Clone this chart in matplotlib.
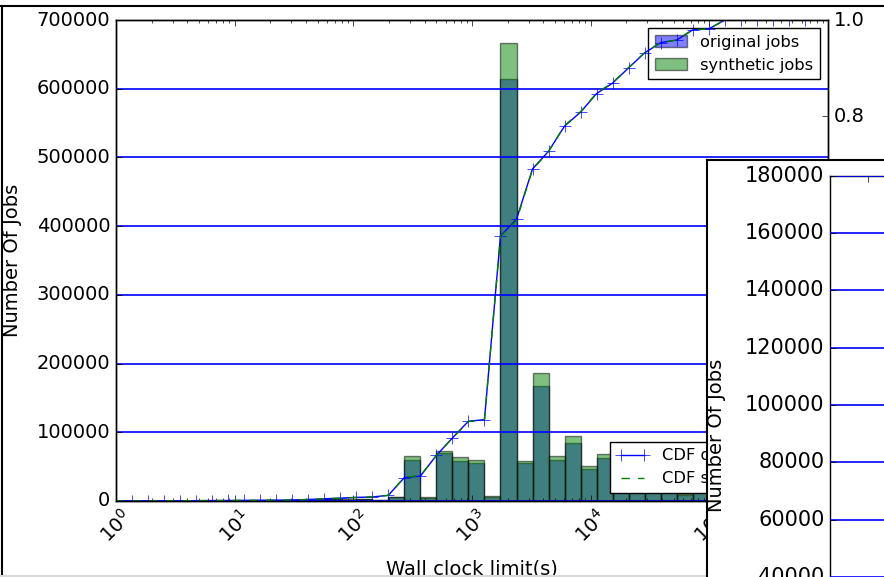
import numpy as np
import matplotlib
matplotlib.use('Agg')
import matplotlib.pyplot as plt
from matplotlib.lines import Line2D

plt.style.use('classic')
plt.rcParams['font.family'] = ['DejaVu Sans']

# histogram bins (log spaced) and counts per bin
bins = np.logspace(0, 5.94, 45)
original = [100, 50, 300, 200, 150, 400, 300, 200, 500, 300, 400,
            600, 1500, 2500, 2000, 2500, 1500, 5500,
            59200, 4800, 69400, 58200, 55800, 5300, 613700, 55800, 167800,
            59200, 84000, 46600, 62100, 35000, 51000, 50000, 34000, 8700,
            34000, 3000, 30000, 0, 0, 0, 0, 0]
synthetic = [110, 60, 320, 220, 160, 430, 330, 220, 540, 330, 430,
             650, 1600, 2700, 2200, 2700, 1600, 6000,
             65900, 6000, 73200, 64000, 59700, 7700, 667000, 58200, 185800,
             65500, 94600, 50500, 68000, 38000, 55000, 54000, 37000, 9500,
             37000, 3300, 32500, 0, 0, 0, 0, 0]
inset_yticks = [40000, 60000, 80000, 100000, 120000, 140000, 160000, 180000]

cdf_orig = np.cumsum(original) / np.sum(original)
cdf_syn = np.cumsum(synthetic) / np.sum(synthetic)

W, H = 884.0, 577.0
fig = plt.figure(figsize=(8.84, 5.77), dpi=100, facecolor='white')

ax = fig.add_axes([116 / W, 1 - 501 / H, 712 / W, 481 / H])
ax.hist(bins[:-1], bins=bins, weights=original, color='b', alpha=0.5,
        label='original jobs')
ax.hist(bins[:-1], bins=bins, weights=synthetic, color='g', alpha=0.5,
        label='synthetic jobs')
ax.set_xscale('log')
ax.set_xlim(1, 1e6)
ax.set_ylim(0, 700000)
ax.yaxis.grid(True, color='b', linestyle='-', linewidth=1.2)
ax.set_xlabel('Wall clock limit(s)', fontsize=14)
ax.set_ylabel('Number Of Jobs', fontsize=14)
ax.xaxis.set_label_coords(0.5, -0.122)
ax.yaxis.set_label_coords(-0.132, 0.5)
ax.tick_params(labelsize=14)
plt.setp(ax.get_xticklabels(), rotation=45)
ax.legend(loc='upper right', fontsize=11.7)

ax2 = ax.twinx()
ax2.plot(bins[:-1], cdf_orig, 'b+-', ms=9, label='CDF original jobs')
ax2.plot(bins[:-1], cdf_syn, 'g--', label='CDF synthetic jobs')
ax2.set_ylim(0, 1.0)
ax2.set_xlim(1, 1e6)
ax2.tick_params(labelsize=14)
ax2.legend(loc='lower right', fontsize=11.7)

# second (overlapping) window
win = fig.add_axes([707 / W, -0.1, 0.3, 1.1 - 160 / H])
win.set_zorder(5)
win.set_facecolor('white')
win.set_xticks([])
win.set_yticks([])
for s in win.spines.values():
    s.set_linewidth(1.5)

inset = fig.add_axes([830 / W, 1 - 691.4 / H, 0.3, (691.4 - 175.7) / H])
inset.set_zorder(6)
inset.set_xlim(0, 7)
inset.set_xticks([1])
inset.set_ylim(0, 180000)
inset.set_yticks(inset_yticks)
inset.yaxis.grid(True, color='b', linestyle='-', linewidth=1.2)
inset.tick_params(labelsize=15)
inset.set_xticklabels([])
fig.text(717 / W, 1 - 435 / H, 'Number Of Jobs', rotation=90, fontsize=14,
         ha='center', va='center', zorder=7)

# screenshot window edges
fig.add_artist(Line2D([0, 1], [1 - 5.5 / H, 1 - 5.5 / H], color='k', lw=1.5))
fig.add_artist(Line2D([1.5 / W, 1.5 / W], [0, 1 - 5.5 / H], color='k', lw=1.5))
fig.add_artist(Line2D([0, 707 / W], [1.5 / H, 1.5 / H], color='0.85', lw=1.5))

fig.savefig('out.png', dpi=100, facecolor='white')
